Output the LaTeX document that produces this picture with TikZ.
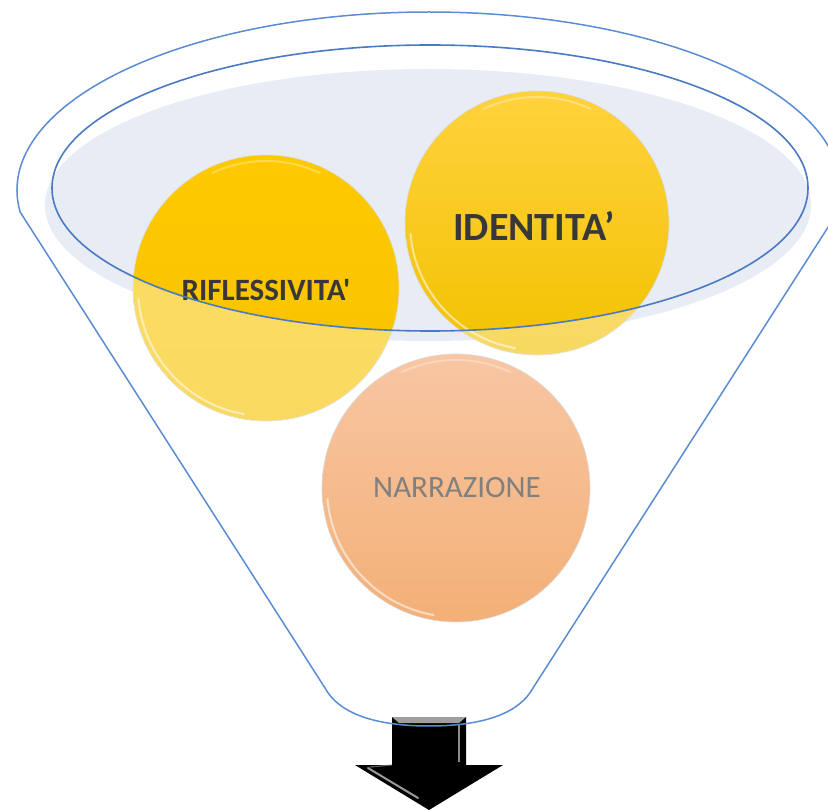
\documentclass[tikz,border=0pt]{standalone}
\usepackage{fontspec}
\newfontfamily\carlito[Ligatures=TeXOff]{Carlito}
\definecolor{funnelblue}{HTML}{5A8CD4}
\definecolor{rimblue}{HTML}{4A7AC2}
\definecolor{liquid}{HTML}{E8ECF5}
\definecolor{yelTop}{HTML}{FFC900}
\definecolor{yelBot}{HTML}{F6C300}
\definecolor{yelTopB}{HTML}{FFD23E}
\definecolor{yelBotB}{HTML}{F2C200}
\definecolor{orTop}{HTML}{F8C6A3}
\definecolor{orBot}{HTML}{F3B077}
\definecolor{darktext}{HTML}{383838}
\definecolor{greytext}{HTML}{808080}
\begin{document}
\begin{tikzpicture}[x=1pt,y=-1pt,
  funnel/.style={draw=funnelblue, line width=1.5pt, line join=round},
  rimline/.style={draw=rimblue, line width=1.6pt},
  ball/.style={circle, minimum size=#1, inner sep=0pt, draw=black!14, line width=0.6pt},
  gloss/.style={white, opacity=0.55, line width=2pt, line cap=round},
  boldlabel/.style={inner sep=0pt, text=darktext},
  thinlabel/.style={inner sep=0pt, text=greytext}]
\useasboundingbox (0,0) rectangle (828,810);
\clip (0,0) rectangle (828,810);

% arrow below the funnel
\fill[black] (392,717) -- (466,717) -- (466,765) -- (503,765) -- (429,810) -- (355,765) -- (392,765) -- cycle;
\fill[gray!75] (392,717) -- (466,717) -- (459,723) -- (399,723) -- cycle;
\draw[white, opacity=0.55, line width=1.5pt] (459,724) -- (459,762);
\draw[white, opacity=0.6, line width=2pt, line cap=round] (368,768) -- (418,798);
\draw[gray, opacity=0.7, line width=1.2pt] (392,765) -- (370,767);

% liquid surface
\fill[liquid] (428,205) ellipse [x radius=383, y radius=136];

% funnel outline
\draw[funnel] (837.8,212) arc[start angle=7.1, end angle=-187.1, x radius=412, y radius=178]
  -- (325,688) .. controls (338,712) and (372,726) .. (429,726)
  .. controls (486,726) and (520,712) .. (533,688) -- cycle;

% balls
\node[ball=266pt, top color=yelTop, bottom color=yelBot] (rifl) at (266,288) {};
\node[ball=264pt, top color=yelTopB, bottom color=yelBotB] (ident) at (537,223) {};
\node[ball=268pt, top color=orTop, bottom color=orBot] (narr) at (456,488) {};

% lighter part of the yellow balls outside the rim
\begin{scope}
  \clip (rifl.center) circle [radius=133];
  \fill[white, fill opacity=0.38, even odd rule] (0,0) rectangle (828,810) (430,188) ellipse [x radius=378, y radius=143];
\end{scope}
\begin{scope}
  \clip (ident.center) circle [radius=132];
  \fill[white, fill opacity=0.38, even odd rule] (0,0) rectangle (828,810) (430,188) ellipse [x radius=378, y radius=143];
\end{scope}

% gloss highlights
\draw[gloss] (rifl.center) ++(100:128) arc[start angle=100, end angle=175, radius=128];
\draw[gloss, opacity=0.3] (rifl.center) ++(245:127) arc[start angle=245, end angle=295, radius=127];
\draw[gloss] (ident.center) ++(100:127) arc[start angle=100, end angle=175, radius=127];
\draw[gloss, opacity=0.3] (ident.center) ++(245:126) arc[start angle=245, end angle=295, radius=126];
\draw[gloss] (narr.center) ++(100:129) arc[start angle=100, end angle=175, radius=129];
\draw[gloss, opacity=0.3] (narr.center) ++(245:128) arc[start angle=245, end angle=295, radius=128];

% labels
\node[boldlabel, font=\carlito\bfseries\fontsize{31}{37}\selectfont] (riflT) at (266,290) {RIFLESSIVITA'};
\node[boldlabel, font=\carlito\bfseries\fontsize{40}{48}\selectfont] (identT) at (534,226) {IDENTITA’};
\node[thinlabel, font=\carlito\fontsize{31}{37}\selectfont] (narrT) at (457,488) {NARRAZIONE};

% inner rim of the funnel
\draw[rimline] (430,188) ellipse [x radius=378, y radius=143];
\end{tikzpicture}
\end{document}
